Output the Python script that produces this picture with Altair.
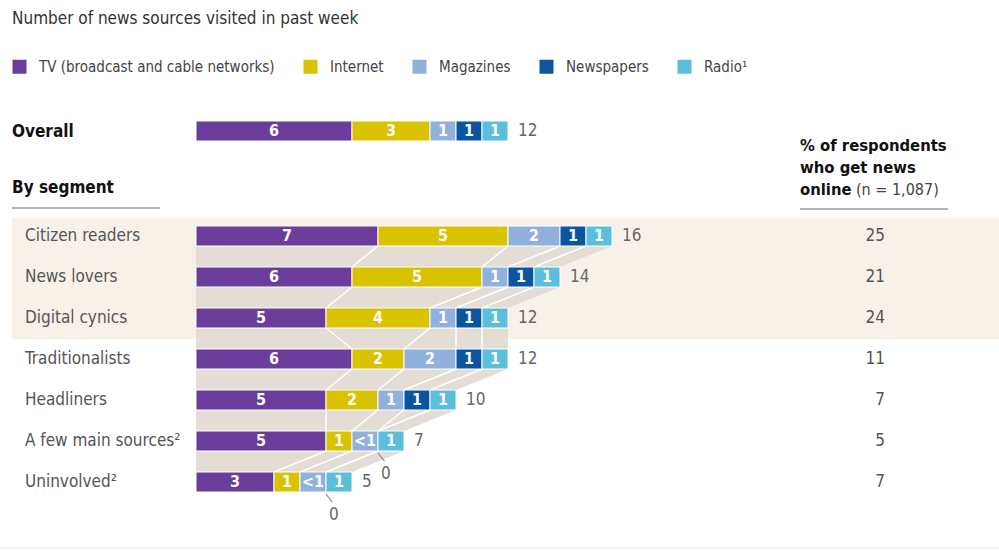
import altair as alt
import pandas as pd

# ---------------- data ----------------
SOURCES = ["TV (broadcast and cable networks)", "Internet", "Magazines", "Newspapers", "Radio¹"]
COLORS = ["#6a3d9b", "#d9c200", "#8fb1dc", "#0b559f", "#5bbedb"]

overall_vals = ["6", "3", "1", "1", "1"]
overall_total = "12"

segments = ["Citizen readers", "News lovers", "Digital cynics", "Traditionalists",
            "Headliners", "A few main sources²", "Uninvolved²"]
tv = ["7", "6", "5", "6", "5", "5", "3"]
internet = ["5", "5", "4", "2", "2", "1", "1"]
magazines = ["2", "1", "1", "2", "1", "<1", "<1"]
newspapers = ["1", "1", "1", "1", "1", "0", "0"]
radio = ["1", "1", "1", "1", "1", "1", "1"]
totals = ["16", "14", "12", "12", "10", "7", "5"]
online_pct = ["25", "21", "24", "11", "7", "5", "7"]
highlighted = ["Citizen readers", "News lovers", "Digital cynics"]

# ---------------- layout constants ----------------
W, H = 999, 550
X0, PX_UNIT = 196, 26          # bar origin (px) and px per source
ROW0, ROW_STEP = 236, 41       # first segment row centre and row pitch (px)
OVERALL_IDX = (131 - ROW0) / ROW_STEP
HALF = 10 / ROW_STEP           # half bar thickness in row units
FONT = "'DejaVu Sans Condensed', 'Liberation Sans Narrow', 'Roboto', sans-serif"

xs = alt.Scale(domain=[-X0 / PX_UNIT, (W - X0) / PX_UNIT], nice=False, zero=False)
ys = alt.Scale(domain=[-ROW0 / ROW_STEP, (H - ROW0) / ROW_STEP], nice=False, zero=False, reverse=True)


def width_of(label):
    return 1 if label == "<1" else int(label)


rows = [("Overall", OVERALL_IDX, overall_vals, overall_total)]
for i, s in enumerate(segments):
    rows.append((s, i, [tv[i], internet[i], magazines[i], newspapers[i], radio[i]], totals[i]))

bar_recs, total_recs, zero_recs, cums = [], [], [], {}
for name, idx, vals, tot in rows:
    c = 0
    bounds = []
    for src, v in zip(SOURCES, vals):
        w = width_of(v)
        if w > 0:
            bar_recs.append(dict(row=name, idx=idx, source=src, start=c, end=c + w,
                                 mid=c + w / 2, label=v, y0=idx - HALF, y1=idx + HALF))
        else:
            zero_recs.append(dict(row=name, x=c, x2=c + 0.25, ty0=idx + HALF + 0.05,
                                  ty1=idx + HALF + 0.25, tx=c + 0.3, tyl=idx + 0.8, label=v))
        c += w
        bounds.append(c)
    cums[name] = bounds
    total_recs.append(dict(row=name, idx=idx, end=c, label=tot))

bar_df = pd.DataFrame(bar_recs)
total_df = pd.DataFrame(total_recs)
zero_df = pd.DataFrame(zero_recs)

# connectors between consecutive segment rows
area_recs, line_recs = [], []
for i in range(len(segments) - 1):
    a, b = cums[segments[i]], cums[segments[i + 1]]
    area_recs.append(dict(pair=i, y=i + HALF, x=a[-1], x0=0))
    area_recs.append(dict(pair=i, y=i + 1 - HALF, x=b[-1], x0=0))
    for k in range(len(SOURCES) - 1):
        line_recs.append(dict(x=a[k], x2=b[k], y=i + HALF, y2=i + 1 - HALF))
area_df = pd.DataFrame(area_recs)
line_df = pd.DataFrame(line_recs)

seg_df = pd.DataFrame(dict(segment=segments, idx=list(range(len(segments))), pct=online_pct))
hi_idx = [segments.index(s) for s in highlighted]
band_df = pd.DataFrame(dict(y0=[min(hi_idx) - 0.44], y1=[max(hi_idx) + 0.52]))
one = pd.DataFrame(dict(a=[0]))

# ---------------- layers ----------------
band = alt.Chart(band_df).mark_rect(color="#f8f1ea").encode(
    x=alt.value(12), x2=alt.value(W),
    y=alt.Y("y0:Q", scale=ys, axis=None), y2="y1:Q")

area = alt.Chart(area_df).mark_area(orient="horizontal", color="#e4ddd5").encode(
    y=alt.Y("y:Q", scale=ys, axis=None),
    x=alt.X("x:Q", scale=xs, axis=None), x2="x0:Q",
    detail="pair:N")

links = alt.Chart(line_df).mark_rule(color="white", strokeWidth=1.5).encode(
    x=alt.X("x:Q", scale=xs, axis=None), x2="x2:Q",
    y=alt.Y("y:Q", scale=ys, axis=None), y2="y2:Q")

bars = alt.Chart(bar_df).mark_rect(stroke="white", strokeWidth=1).encode(
    x=alt.X("start:Q", scale=xs, axis=None), x2="end:Q",
    y=alt.Y("y0:Q", scale=ys, axis=None), y2="y1:Q",
    color=alt.Color("source:N", scale=alt.Scale(domain=SOURCES, range=COLORS),
                    legend=alt.Legend(orient="none", legendX=12, legendY=59, direction="horizontal",
                                      title=None, symbolType="square", symbolSize=196,
                                      symbolStrokeWidth=0, labelFont=FONT, labelFontSize=15,
                                      labelColor="#444", columnPadding=28, labelOffset=12,
                                      labelLimit=400)))

bar_labels = alt.Chart(bar_df).mark_text(font=FONT, fontSize=16, fontWeight="bold",
                                         color="white", baseline="middle").encode(
    x=alt.X("mid:Q", scale=xs, axis=None), y=alt.Y("idx:Q", scale=ys, axis=None), text="label:N")

total_labels = alt.Chart(total_df).mark_text(font=FONT, fontSize=17, color="#666", align="left",
                                             baseline="middle", dx=10).encode(
    x=alt.X("end:Q", scale=xs, axis=None), y=alt.Y("idx:Q", scale=ys, axis=None), text="label:N")

zero_ticks = alt.Chart(zero_df).mark_rule(color="#888", strokeWidth=1.2).encode(
    x=alt.X("x:Q", scale=xs, axis=None), x2="x2:Q",
    y=alt.Y("ty0:Q", scale=ys, axis=None), y2="ty1:Q")
zero_text = alt.Chart(zero_df).mark_text(font=FONT, fontSize=17, color="#666", baseline="middle").encode(
    x=alt.X("tx:Q", scale=xs, axis=None), y=alt.Y("tyl:Q", scale=ys, axis=None), text="label:N")

seg_labels = alt.Chart(seg_df).mark_text(font=FONT, fontSize=17, color="#555", align="left",
                                         baseline="middle").encode(
    x=alt.value(25), y=alt.Y("idx:Q", scale=ys, axis=None), text="segment:N")

pct_labels = alt.Chart(seg_df).mark_text(font=FONT, fontSize=17, color="#555", align="right",
                                         baseline="middle").encode(
    x=alt.value(885), y=alt.Y("idx:Q", scale=ys, axis=None), text="pct:N")


def txt(s, x, y, size=17, weight="normal", color="#222", align="left"):
    return alt.Chart(one).mark_text(font=FONT, fontSize=size, fontWeight=weight, color=color,
                                    align=align, baseline="middle", text=s).encode(
        x=alt.value(x), y=alt.value(y))


def hline(x1, x2, y, color="#b5b5b5", w=2):
    return alt.Chart(one).mark_rule(color=color, strokeWidth=w).encode(
        x=alt.value(x1), x2=alt.value(x2), y=alt.value(y))


texts = [
    txt("Number of news sources visited in past week", 12, 19, size=17, color="#333"),
    txt("Overall", 12, 132, size=17, weight="bold", color="#111"),
    txt("By segment", 12, 188, size=17, weight="bold", color="#111"),
    txt("% of respondents", 800, 146, size=16.5, weight="bold", color="#111"),
    txt("who get news", 800, 168, size=16.5, weight="bold", color="#111"),
    txt("online", 800, 190, size=16.5, weight="bold", color="#111"),
    txt("(n = 1,087)", 856, 190, size=16, color="#444"),
    hline(12, 160, 208),
    hline(800, 948, 209),
    hline(0, W, 548, color="#ececec", w=1),
]

chart = alt.layer(band, area, links, bars, bar_labels, total_labels, zero_ticks, zero_text,
                  seg_labels, pct_labels, *texts).properties(
    width=W, height=H, padding=0, autosize="none", background="white"
).configure_view(stroke=None)

chart.save("out.html", embed_options={"renderer": "svg", "actions": False})
